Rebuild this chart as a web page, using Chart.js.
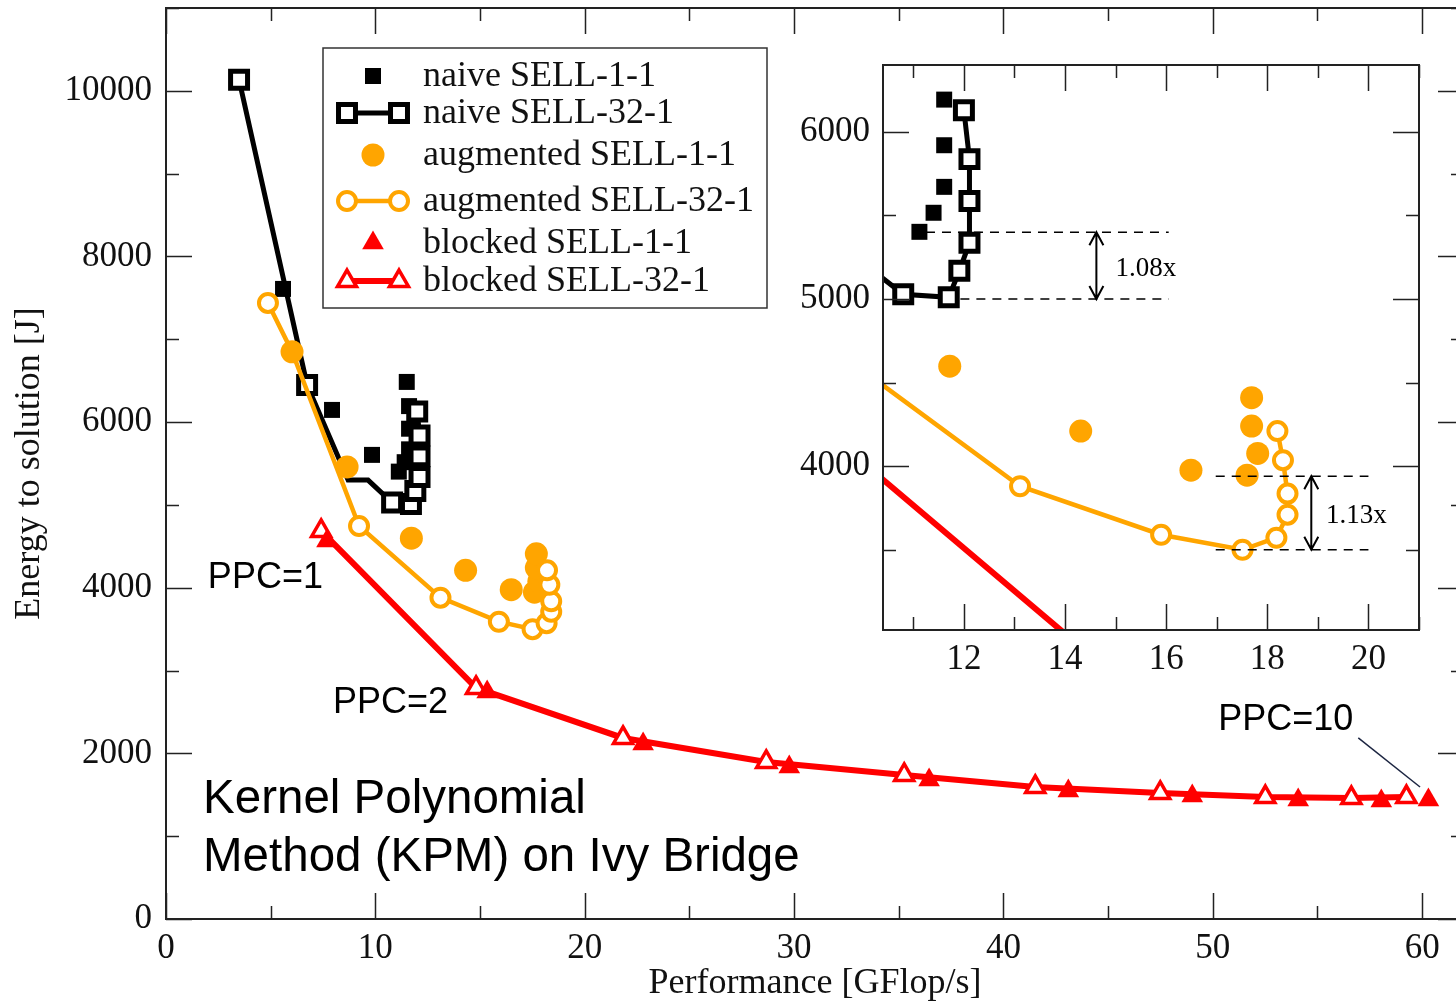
<!DOCTYPE html>
<html>
<head>
<meta charset="utf-8">
<title>KPM energy vs performance</title>
<script src="https://cdn.jsdelivr.net/npm/chart.js@4.4.0/dist/chart.umd.min.js"></script>
<style>
  html, body { margin: 0; padding: 0; background: #fff; overflow: hidden; }
  #wrap { position: relative; width: 1456px; height: 1002px; overflow: hidden; }
  #main { position: absolute; left: 0; top: 0; }
  #inset { position: absolute; left: 780px; top: 40px; }
</style>
</head>
<body>
<div id="wrap">
  <canvas id="main" width="1480" height="1002" style="width:1480px;height:1002px"></canvas>
  <canvas id="inset" width="650" height="650" style="width:650px;height:650px"></canvas>
</div>
<script>
// ---- measurements: performance [GFlop/s] and energy [J] ----
const naive11X = [5.59, 7.93, 9.84, 11.12, 11.40, 11.61, 11.61, 11.61, 11.50];
const naive11Y = [7608, 6147, 5604, 5402, 5516, 5671, 5920, 6193, 6485];

const naive32X = [3.49, 6.74, 8.70, 9.65, 10.80, 11.70, 11.91, 12.11, 12.11, 12.11, 12.00];
const naive32Y = [10133, 6449, 5300, 5300, 5028, 5010, 5169, 5337, 5586, 5837, 6129];
const naive32Bare = [2, 3];        // vertices of the curve without a symbol

const aug11X = [6.02, 8.65, 11.72, 14.31, 16.49, 17.60, 17.81, 17.69, 17.69];
const aug11Y = [6848, 5459, 4598, 4210, 3976, 3946, 4076, 4240, 4410];

const aug32X = [4.87, 6.02, 9.22, 13.11, 15.90, 17.51, 18.18, 18.40, 18.40, 18.31, 18.20];
const aug32Y = [7439, 6850, 4746, 3880, 3590, 3500, 3572, 3710, 3836, 4036, 4210];
const aug32Bare = [1];

const blocked11X = [7.69, 15.34, 22.79, 29.77, 36.45, 43.10, 49.02, 54.08, 58.05, 60.30];
const blocked11Y = [4565, 2741, 2113, 1836, 1679, 1546, 1485, 1437, 1425, 1437];

const blocked32X = [7.41, 14.81, 21.83, 28.67, 35.26, 41.52, 47.49, 52.51, 56.62, 59.25];
const blocked32Y = [4686, 2790, 2186, 1896, 1739, 1594, 1522, 1473, 1461, 1473];

// ---- axes ----
const mainXTicks = [0, 10, 20, 30, 40, 50, 60];
const mainYTicks = [0, 2000, 4000, 6000, 8000, 10000];
const insetXTicks = [12, 14, 16, 18, 20];
const insetYTicks = [4000, 5000, 6000];

const SERIF = "'Liberation Serif', 'Times New Roman', serif";
const SANS = "'Liberation Sans', Arial, sans-serif";
const ORANGE = '#ffa500';
const RED = '#ff0000';
const INK = '#111';

const zip = (xs, ys) => xs.map((x, i) => ({ x, y: ys[i] }));
const bareRadius = (bare, r) => (c) => (bare.includes(c.dataIndex) ? 0 : r);

// fixed axis boxes: no extra room for the half-labels at the ends
const fixedBox = (prop, size) => (s) => {
  s[prop] = size;
  s.paddingTop = s.paddingBottom = s.paddingLeft = s.paddingRight = 0;
};
const plainLabel = (v) => String(v);

// fresh dataset objects for each chart (Chart.js keeps references)
function buildSets() {
  return [
    {
      label: 'naive SELL-1-1', data: zip(naive11X, naive11Y), order: 6,
      showLine: false, pointStyle: 'rect', pointRadius: 11.3, keyRadius: 11.3,
      pointBackgroundColor: '#000', pointBorderWidth: 0,
    },
    {
      label: 'naive SELL-32-1', data: zip(naive32X, naive32Y), order: 5,
      showLine: true, borderColor: '#000', borderWidth: 5,
      pointStyle: 'rect', pointRadius: bareRadius(naive32Bare, 12), keyRadius: 12,
      pointBackgroundColor: '#fff', pointBorderColor: '#000', pointBorderWidth: 5,
    },
    {
      label: 'augmented SELL-1-1', data: zip(aug11X, aug11Y), order: 4,
      showLine: false, pointStyle: 'circle', pointRadius: 11.5, keyRadius: 11.5,
      pointBackgroundColor: ORANGE, pointBorderWidth: 0,
    },
    {
      label: 'augmented SELL-32-1', data: zip(aug32X, aug32Y), order: 3,
      showLine: true, borderColor: ORANGE, borderWidth: 4.5,
      pointStyle: 'circle', pointRadius: bareRadius(aug32Bare, 9), keyRadius: 9,
      pointBackgroundColor: '#fff', pointBorderColor: ORANGE, pointBorderWidth: 4,
    },
    {
      label: 'blocked SELL-1-1', data: zip(blocked11X, blocked11Y), order: 1,
      showLine: false, pointStyle: 'triangle', pointRadius: 12.5, keyRadius: 12.5,
      pointBackgroundColor: RED, pointBorderWidth: 0,
    },
    {
      label: 'blocked SELL-32-1', data: zip(blocked32X, blocked32Y), order: 2,
      showLine: true, borderColor: RED, borderWidth: 6,
      pointStyle: 'triangle', pointRadius: 11, keyRadius: 11,
      pointBackgroundColor: '#fff', pointBorderColor: RED, pointBorderWidth: 3.5,
    },
  ].map(ds => Object.assign({ tension: 0, fill: false }, ds));
}

// frame around the plot with inward major/minor ticks on all four sides
const frameTicks = {
  id: 'frameTicks',
  afterDatasetsDraw(chart, args, o) {
    const { ctx, chartArea: a, scales: { x, y } } = chart;
    const list = (min, max, step) => {
      const out = [];
      for (let v = Math.ceil(min / step - 1e-9) * step; v <= max + 1e-9; v += step) out.push(v);
      return out;
    };
    const isMajor = (v, step) => Math.abs(v / step - Math.round(v / step)) < 1e-6;
    ctx.save();
    ctx.strokeStyle = o.color;
    ctx.lineWidth = o.width;
    ctx.beginPath();
    list(x.min, x.max, o.xMinor).forEach(v => {
      const px = Math.round(x.getPixelForValue(v)) + 0.5;
      const len = isMajor(v, o.xMajor) ? o.len : o.minorLen;
      ctx.moveTo(px, a.bottom); ctx.lineTo(px, a.bottom - len);
      ctx.moveTo(px, a.top); ctx.lineTo(px, a.top + len);
    });
    list(y.min, y.max, o.yMinor).forEach(v => {
      const py = Math.round(y.getPixelForValue(v)) + 0.5;
      const len = isMajor(v, o.yMajor) ? o.len : o.minorLen;
      ctx.moveTo(a.left, py); ctx.lineTo(a.left + len, py);
      ctx.moveTo(a.right, py); ctx.lineTo(a.right - len, py);
    });
    ctx.stroke();
    ctx.lineWidth = o.frameWidth;
    ctx.strokeRect(a.left, a.top, a.right - a.left, a.bottom - a.top);
    ctx.restore();
  }
};

// free text, guide lines and double arrows placed in data coordinates
const notes = {
  id: 'notes',
  afterDatasetsDraw(chart, args, o) {
    const { ctx, scales: { x, y } } = chart;
    ctx.save();
    (o.segments || []).forEach(s => {
      ctx.beginPath();
      ctx.setLineDash(s.dash || []);
      ctx.strokeStyle = s.color;
      ctx.lineWidth = s.width;
      ctx.moveTo(x.getPixelForValue(s.x0), y.getPixelForValue(s.y0));
      ctx.lineTo(x.getPixelForValue(s.x1), y.getPixelForValue(s.y1));
      ctx.stroke();
    });
    ctx.setLineDash([]);
    (o.arrows || []).forEach(ar => {
      const px = x.getPixelForValue(ar.x);
      const top = y.getPixelForValue(ar.y0);
      const bot = y.getPixelForValue(ar.y1);
      ctx.strokeStyle = '#000';
      ctx.lineWidth = 2;
      ctx.beginPath();
      ctx.moveTo(px, top); ctx.lineTo(px, bot);
      ctx.moveTo(px - 7, top + 13); ctx.lineTo(px, top); ctx.lineTo(px + 7, top + 13);
      ctx.moveTo(px - 7, bot - 13); ctx.lineTo(px, bot); ctx.lineTo(px + 7, bot - 13);
      ctx.stroke();
    });
    (o.texts || []).forEach(t => {
      ctx.font = t.font;
      ctx.fillStyle = t.color || '#000';
      ctx.textAlign = 'left';
      ctx.textBaseline = 'middle';
      ctx.fillText(t.text, x.getPixelForValue(t.x), y.getPixelForValue(t.y));
    });
    ctx.restore();
  }
};

// boxed key: symbol (or symbol-line-symbol) followed by the series name
const seriesKey = {
  id: 'seriesKey',
  afterDraw(chart, args, o) {
    if (!o.display) return;
    const { ctx } = chart;
    const b = o.box;
    ctx.save();
    ctx.fillStyle = '#fff';
    ctx.fillRect(b.left, b.top, b.right - b.left, b.bottom - b.top);
    ctx.strokeStyle = '#333';
    ctx.lineWidth = 1.5;
    ctx.strokeRect(b.left, b.top, b.right - b.left, b.bottom - b.top);
    const mark = (ds, px, py) => {
      ctx.fillStyle = ds.pointBackgroundColor;
      ctx.strokeStyle = ds.pointBorderColor || ds.pointBackgroundColor;
      ctx.lineWidth = ds.pointBorderWidth;
      Chart.helpers.drawPoint(ctx, {
        pointStyle: ds.pointStyle, radius: ds.keyRadius, rotation: 0, borderWidth: ds.pointBorderWidth
      }, px, py);
    };
    chart.data.datasets.forEach((ds, i) => {
      const py = o.rows[i];
      if (ds.showLine) {
        ctx.beginPath();
        ctx.strokeStyle = ds.borderColor;
        ctx.lineWidth = ds.borderWidth;
        ctx.moveTo(o.pair[0], py); ctx.lineTo(o.pair[1], py);
        ctx.stroke();
        mark(ds, o.pair[0], py);
        mark(ds, o.pair[1], py);
      } else {
        mark(ds, o.single, py);
      }
      ctx.font = o.font;
      ctx.fillStyle = INK;
      ctx.textAlign = 'left';
      ctx.textBaseline = 'middle';
      ctx.fillText(ds.label, o.textX, py + 1);
    });
    ctx.restore();
  }
};

const tickFont = { family: SERIF, size: 35, lineHeight: 1 };

new Chart(document.getElementById('main'), {
  type: 'scatter',
  data: { datasets: buildSets() },
  plugins: [frameTicks, notes, seriesKey],
  options: {
    responsive: false,
    animation: false,
    events: [],
    layout: { autoPadding: false, padding: { top: 8, right: 16, left: 0, bottom: 0 } },
    plugins: {
      legend: { display: false },
      tooltip: { enabled: false },
      frameTicks: { xMajor: 10, xMinor: 5, yMajor: 2000, yMinor: 1000, len: 26, minorLen: 13,
                    color: '#222', width: 1.5, frameWidth: 2 },
      notes: {
        segments: [{ x0: 56.95, y0: 2186, x1: 59.9, y1: 1594, color: '#1c2541', width: 1.5 }],
        texts: [
          { text: 'PPC=1', x: 2.0, y: 4118, font: `36px ${SANS}` },
          { text: 'PPC=2', x: 7.98, y: 2609, font: `36px ${SANS}` },
          { text: 'PPC=10', x: 50.26, y: 2403, font: `36px ${SANS}` },
          { text: 'Kernel Polynomial', x: 1.77, y: 1437, font: `47.5px ${SANS}` },
          { text: 'Method (KPM) on Ivy Bridge', x: 1.77, y: 737, font: `47.5px ${SANS}` },
        ],
      },
      seriesKey: {
        display: true,
        box: { left: 323, top: 48, right: 767, bottom: 308 },
        rows: [76, 113, 155, 201, 243, 281],
        single: 373, pair: [347, 399], textX: 423,
        font: `36px ${SERIF}`,
      },
    },
    scales: {
      x: {
        type: 'linear', min: 0, max: 62,
        afterBuildTicks: s => { s.ticks = mainXTicks.map(v => ({ value: v })); },
        afterFit: fixedBox('height', 83),
        grid: { display: false, drawTicks: false },
        border: { display: false },
        ticks: { font: tickFont, color: INK, padding: 12, maxRotation: 0, autoSkip: false, callback: plainLabel },
        title: { display: true, text: 'Performance [GFlop/s]', color: INK,
                 font: { family: SERIF, size: 36, lineHeight: 1 }, padding: { top: 0, bottom: 0 } },
      },
      y: {
        type: 'linear', min: 0, max: 11000,
        afterBuildTicks: s => { s.ticks = mainYTicks.map(v => ({ value: v })); },
        afterFit: fixedBox('width', 166),
        grid: { display: false, drawTicks: false },
        border: { display: false },
        ticks: { font: tickFont, color: INK, padding: 14, autoSkip: false, callback: plainLabel },
        title: { display: true, text: 'Energy to solution [J]', color: INK,
                 font: { family: SERIF, size: 36, lineHeight: 1 }, padding: { top: 12, bottom: 0 } },
      },
    },
  },
});

new Chart(document.getElementById('inset'), {
  type: 'scatter',
  data: { datasets: buildSets() },
  plugins: [{
    id: 'insetPaper',
    beforeDraw(chart) {
      const { ctx, width, height } = chart;
      ctx.save(); ctx.fillStyle = '#fff'; ctx.fillRect(0, 0, width, height); ctx.restore();
    }
  }, frameTicks, notes],
  options: {
    responsive: false,
    animation: false,
    events: [],
    layout: { autoPadding: false, padding: { top: 25, right: 11, left: 0, bottom: 0 } },
    plugins: {
      legend: { display: false },
      tooltip: { enabled: false },
      frameTicks: { xMajor: 2, xMinor: 1, yMajor: 1000, yMinor: 500, len: 26, minorLen: 13,
                    color: '#222', width: 1.5, frameWidth: 2 },
      notes: {
        segments: [
          { x0: 11.25, y0: 5400, x1: 16.05, y1: 5400, color: '#000', width: 1.5, dash: [9, 7] },
          { x0: 11.93, y0: 5000, x1: 16.05, y1: 5000, color: '#000', width: 1.5, dash: [9, 7] },
          { x0: 16.98, y0: 3940, x1: 20.0, y1: 3940, color: '#000', width: 1.5, dash: [9, 7] },
          { x0: 16.98, y0: 3500, x1: 20.0, y1: 3500, color: '#000', width: 1.5, dash: [9, 7] },
        ],
        arrows: [
          { x: 14.62, y0: 5400, y1: 5000 },
          { x: 18.87, y0: 3940, y1: 3500 },
        ],
        texts: [
          { text: '1.08x', x: 15.0, y: 5180, font: `27px ${SERIF}` },
          { text: '1.13x', x: 19.16, y: 3705, font: `27px ${SERIF}` },
        ],
      },
    },
    scales: {
      x: {
        type: 'linear', min: 10.4, max: 21,
        afterBuildTicks: s => { s.ticks = insetXTicks.map(v => ({ value: v })); },
        afterFit: fixedBox('height', 60),
        grid: { display: false, drawTicks: false },
        border: { display: false },
        ticks: { font: tickFont, color: INK, padding: 12, maxRotation: 0, autoSkip: false, callback: plainLabel },
      },
      y: {
        type: 'linear', min: 3020, max: 6400,
        afterBuildTicks: s => { s.ticks = insetYTicks.map(v => ({ value: v })); },
        afterFit: fixedBox('width', 103),
        grid: { display: false, drawTicks: false },
        border: { display: false },
        ticks: { font: tickFont, color: INK, padding: 13, autoSkip: false, callback: plainLabel },
      },
    },
  },
});
</script>
</body>
</html>
